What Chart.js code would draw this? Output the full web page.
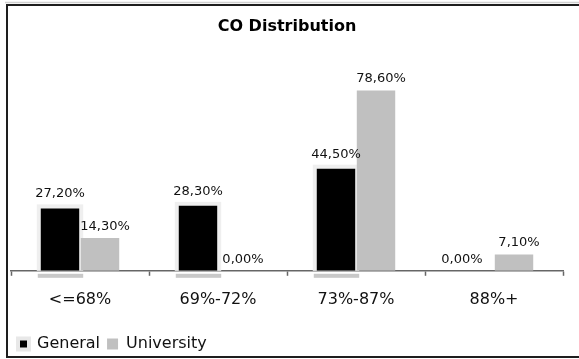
<!DOCTYPE html>
<html>
<head>
<meta charset="utf-8">
<title>CO Distribution</title>
<script src="https://cdn.jsdelivr.net/npm/chart.js@4/dist/chart.umd.min.js"></script>
<style>
  html, body { margin: 0; padding: 0; background: #ffffff; }
  #wrap { width: 579px; height: 359px; position: relative; }
</style>
</head>
<body>
<div id="wrap"><canvas id="chart" width="579" height="359"></canvas></div>
<script>
// Score bands and the share of each school type falling in them
const categories = ['<=68%', '69%-72%', '73%-87%', '88%+'];
const generalValues = [27.2, 28.3, 44.5, 0.0];
const universityValues = [14.3, 0.0, 78.6, 7.1];
const seriesNames = ['General', 'University'];

const FONT = "'DejaVu Sans', Verdana, sans-serif";

function pct(v) {
  return v.toFixed(2).replace('.', ',') + '%';
}

// Frame around the whole figure
const framePlugin = {
  id: 'frame',
  beforeDraw(chart) {
    const ctx = chart.ctx;
    ctx.save();
    ctx.fillStyle = '#ffffff';
    ctx.fillRect(0, 0, chart.width, chart.height);
    ctx.strokeStyle = '#d0d0d0';
    ctx.lineWidth = 1.5;
    ctx.beginPath();
    ctx.moveTo(5, 2.5);
    ctx.lineTo(chart.width, 2.5);
    ctx.stroke();
    ctx.strokeStyle = '#1e1e1e';
    ctx.lineWidth = 2;
    ctx.beginPath();
    ctx.moveTo(chart.width, 5);
    ctx.lineTo(7, 5);
    ctx.lineTo(7, 357);
    ctx.lineTo(chart.width, 357);
    ctx.stroke();
    ctx.restore();
  }
};

// Soft halo behind the black bars plus a shadow under the axis
const haloPlugin = {
  id: 'halo',
  beforeDatasetsDraw(chart) {
    const ctx = chart.ctx;
    const meta = chart.getDatasetMeta(0);
    ctx.save();
    meta.data.forEach((bar, i) => {
      if (generalValues[i] <= 0) return;
      const p = bar.getProps(['x', 'y', 'base', 'width'], true);
      const left = p.x - p.width / 2;
      ctx.fillStyle = '#efefef';
      ctx.fillRect(left - 4, p.y - 4, p.width + 8, p.base - p.y + 4);
      ctx.fillStyle = '#c8c8c8';
      ctx.fillRect(left - 3, p.base + 3, p.width + 7, 4);
    });
    ctx.restore();
  }
};

// Value labels above each bar
const valueLabelPlugin = {
  id: 'valueLabels',
  afterDatasetsDraw(chart) {
    const ctx = chart.ctx;
    ctx.save();
    ctx.font = '13px ' + FONT;
    ctx.fillStyle = '#111111';
    ctx.textAlign = 'center';
    ctx.textBaseline = 'bottom';
    chart.data.datasets.forEach((ds, di) => {
      const meta = chart.getDatasetMeta(di);
      meta.data.forEach((bar, i) => {
        const v = ds.data[i];
        const p = bar.getProps(['x', 'y'], true);
        let dx = 0;
        if (di === 1) dx = 5;
        if (di === 0 && v === 0) dx = -12;
        const gap = (di === 0 && v > 0) ? 8 : 5;
        ctx.fillText(pct(v), p.x + dx, p.y - gap);
      });
    });
    ctx.restore();
  }
};

new Chart(document.getElementById('chart'), {
  type: 'bar',
  data: {
    labels: categories,
    datasets: [
      {
        label: seriesNames[0],
        data: generalValues,
        backgroundColor: '#000000',
        borderWidth: 0,
        categoryPercentage: 0.58,
        barPercentage: 0.96
      },
      {
        label: seriesNames[1],
        data: universityValues,
        backgroundColor: '#c0c0c0',
        borderWidth: 0,
        categoryPercentage: 0.58,
        barPercentage: 0.96
      }
    ]
  },
  options: {
    responsive: false,
    animation: false,
    devicePixelRatio: 1,
    layout: { padding: { left: 11, right: 16, top: 0, bottom: -3 } },
    scales: {
      x: {
        grid: {
          display: true,
          drawOnChartArea: false,
          drawTicks: true,
          tickLength: 5,
          tickColor: '#666666',
          tickWidth: 1.5,
          offset: true
        },
        border: { display: true, color: '#666666', width: 1.5 },
        ticks: {
          color: '#111111',
          font: { family: FONT, size: 16 },
          padding: 14,
          maxRotation: 0
        },
        afterFit(scale) { scale.height += 6; }
      },
      y: {
        display: false,
        min: 0,
        max: 80
      }
    },
    plugins: {
      title: {
        display: true,
        text: 'CO Distribution',
        color: '#000000',
        font: { family: FONT, size: 16, weight: 'bold' },
        padding: { top: 17, bottom: 51 }
      },
      legend: {
        display: true,
        position: 'bottom',
        align: 'start',
        labels: {
          color: '#111111',
          font: { family: FONT, size: 16 },
          boxWidth: 11,
          boxHeight: 11,
          padding: 7,
          generateLabels(chart) {
            return chart.data.datasets.map((ds, i) => ({
              text: ds.label,
              fillStyle: i === 0 ? '#000000' : '#c0c0c0',
              strokeStyle: i === 0 ? '#e8e8e8' : '#c0c0c0',
              lineWidth: i === 0 ? 4 : 0,
              datasetIndex: i,
              hidden: false,
              fontColor: '#111111'
            }));
          }
        }
      },
      tooltip: { enabled: false }
    }
  },
  plugins: [framePlugin, haloPlugin, valueLabelPlugin]
});
</script>
</body>
</html>
